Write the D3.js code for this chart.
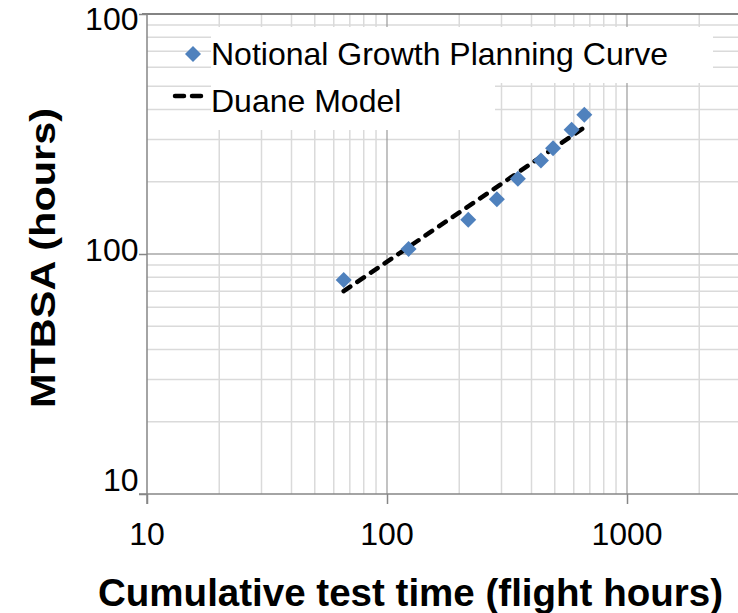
<!DOCTYPE html>
<html>
<head>
<meta charset="utf-8">
<script src="https://cdn.jsdelivr.net/npm/d3@7"></script>
<style>
  html, body { margin: 0; padding: 0; background: #fff; }
  svg { display: block; }
  text { font-family: "Liberation Sans", Arial, sans-serif; fill: #000; }
</style>
</head>
<body>
<svg id="chart" width="738" height="613"></svg>
<script>
// ---- data ----
const timeHours = [66, 123, 218, 287, 351, 438, 492, 588, 664];
const mtbsa     = [78, 105, 139, 169, 206, 245, 276, 329, 380];
const duaneTime  = [66, 664];
const duaneMTBSA = [70, 337];
const xTickValues = [10, 100, 1000];
const xTickLabels = ["10", "100", "1000"];
const yTickValues = [10, 100, 1000];
const yTickLabels = ["10", "100", "100"];
const seriesNames = ["Notional Growth Planning Curve", "Duane Model"];
const xTitle = "Cumulative test time (flight hours)";
const yTitle = "MTBSA (hours)";

// ---- layout ----
const svg = d3.select("#chart");
const plotL = 147, plotT = 14, plotB = 494, plotR = 760;
const x = d3.scaleLog().domain([10, 3000]).range([plotL, plotL + 240 * Math.log10(300)]);
const y = d3.scaleLog().domain([10, 1000]).range([plotB, plotT]);
const yLabelPos = d3.scaleLog().domain([10, 1000]).range([491, 30]);

const isMajor = v => Math.abs(Math.log10(v) - Math.round(Math.log10(v))) < 1e-9;

// minor gridlines
const g = svg.append("g");
g.selectAll(".vminor").data(x.ticks().filter(v => !isMajor(v))).join("line")
  .attr("x1", d => x(d)).attr("x2", d => x(d)).attr("y1", plotT).attr("y2", plotB)
  .attr("stroke", "#dadada").attr("stroke-width", 1.5);
g.selectAll(".hminor").data(y.ticks().filter(v => !isMajor(v))).join("line")
  .attr("y1", d => y(d)).attr("y2", d => y(d)).attr("x1", plotL).attr("x2", plotR)
  .attr("stroke", "#dadada").attr("stroke-width", 1.5);
// major gridlines
g.selectAll(".vmajor").data(xTickValues.filter(v => v > 10)).join("line")
  .attr("x1", d => x(d)).attr("x2", d => x(d)).attr("y1", plotT).attr("y2", plotB)
  .attr("stroke", "#9a9a9a").attr("stroke-width", 1.2);
g.selectAll(".hmajor").data(yTickValues.filter(v => v > 10 && v < 1000)).join("line")
  .attr("y1", d => y(d)).attr("y2", d => y(d)).attr("x1", plotL).attr("x2", plotR)
  .attr("stroke", "#bdbdbd").attr("stroke-width", 2);

// legend white boxes
svg.append("rect").attr("x", 211).attr("y", 27).attr("width", 502).attr("height", 56).attr("fill", "#fff");
svg.append("rect").attr("x", 211).attr("y", 83).attr("width", 284).attr("height", 47).attr("fill", "#fff");

// top border
svg.append("line").attr("x1", 142).attr("x2", plotR).attr("y1", y(1000)).attr("y2", y(1000))
  .attr("stroke", "#5a5a5a").attr("stroke-width", 1.6);

// axes
const xAxis = svg.append("g").attr("transform", `translate(0,${plotB})`)
  .call(d3.axisBottom(x).tickValues(xTickValues).tickSize(10).tickFormat(""));
const yAxis = svg.append("g").attr("transform", `translate(${plotL},0)`)
  .call(d3.axisLeft(y).tickValues(yTickValues).tickSize(8).tickFormat(""));
[xAxis, yAxis].forEach(a => {
  a.select(".domain").attr("stroke", "#868686").attr("stroke-width", 1.5);
  a.selectAll(".tick line").attr("stroke", "#868686").attr("stroke-width", 1.5);
});
xAxis.select(".domain").attr("d", `M${plotL - 8},0H${plotR}`);
yAxis.select(".domain").attr("d", `M0,${plotT}V${plotB + 10}`);

// tick labels
svg.selectAll(".xlab").data(xTickValues).join("text")
  .attr("x", d => x(d)).attr("y", 545).attr("text-anchor", "middle")
  .attr("font-size", 32).text((d, i) => xTickLabels[i]);
svg.selectAll(".ylab").data(yTickValues).join("text")
  .attr("x", 138.5).attr("y", d => yLabelPos(d)).attr("text-anchor", "end")
  .attr("font-size", 32).text((d, i) => yTickLabels[i]);

// axis titles
svg.append("text").attr("x", 410.5).attr("y", 606).attr("text-anchor", "middle")
  .attr("font-size", 38).attr("font-weight", "bold")
  .attr("textLength", 625).attr("lengthAdjust", "spacingAndGlyphs").text(xTitle);
svg.append("text").attr("transform", "translate(55,258) rotate(-90)").attr("text-anchor", "middle")
  .attr("font-size", 35).attr("font-weight", "bold")
  .attr("textLength", 300).attr("lengthAdjust", "spacingAndGlyphs").text(yTitle);

// Duane model line
const line = d3.line().x(d => x(d[0])).y(d => y(d[1]));
svg.append("path").datum(duaneTime.map((t, i) => [t, duaneMTBSA[i]]))
  .attr("d", line).attr("fill", "none").attr("stroke", "#000")
  .attr("stroke-width", 4.5).attr("stroke-dasharray", "8,8.5").attr("stroke-linecap", "round");

// markers
const diamond = d3.symbol().type(d3.symbolSquare).size(128);
svg.selectAll(".pt").data(timeHours.map((t, i) => [t, mtbsa[i]])).join("path")
  .attr("d", diamond)
  .attr("transform", d => `translate(${x(d[0])},${y(d[1])}) rotate(45)`)
  .attr("fill", "#4f81bd");

// legend
svg.append("path").attr("d", diamond).attr("transform", "translate(193,54) rotate(45)").attr("fill", "#4f81bd");
svg.append("line").attr("x1", 175).attr("x2", 204).attr("y1", 96).attr("y2", 96)
  .attr("stroke", "#000").attr("stroke-width", 4.5).attr("stroke-dasharray", "9,8").attr("stroke-linecap", "round");
svg.append("text").attr("x", 211).attr("y", 65).attr("font-size", 32).text(seriesNames[0]);
svg.append("text").attr("x", 211).attr("y", 112).attr("font-size", 32).text(seriesNames[1]);
</script>
</body>
</html>
